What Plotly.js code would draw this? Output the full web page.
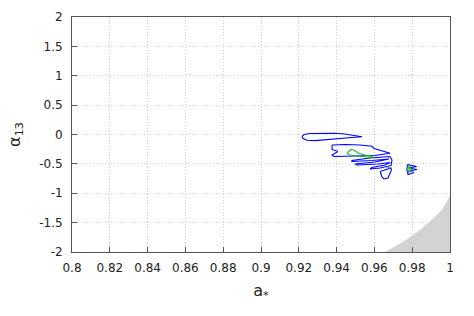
<!DOCTYPE html>
<html>
<head>
<meta charset="utf-8">
<script src="https://cdn.plot.ly/plotly-3.0.1.min.js"></script>
<style>html,body{margin:0;padding:0;background:#fff;}#chart{width:474px;height:316px;}</style>
</head>
<body>
<div id="chart"></div>
<script>
// Tick labels
var xTickVals = [0.8, 0.82, 0.84, 0.86, 0.88, 0.9, 0.92, 0.94, 0.96, 0.98, 1];
var xTickText = ["0.8", "0.82", "0.84", "0.86", "0.88", "0.9", "0.92", "0.94", "0.96", "0.98", "1"];
var yTickVals = [-2, -1.5, -1, -0.5, 0, 0.5, 1, 1.5, 2];
var yTickText = ["-2", "-1.5", "-1", "-0.5", "0", "0.5", "1", "1.5", "2"];

// Excluded (shaded) region boundary
var shadeX = [0.9656, 0.9753, 0.9841, 0.9912, 0.9956, 0.9983, 1.0, 1.0, 0.9656];
var shadeY = [-2.0, -1.825, -1.626, -1.426, -1.285, -1.144, -1.03, -2.0, -2.0];

// Blue contours
var blueAX = [0.9217, 0.9228, 0.9259, 0.9312, 0.9392, 0.9444, 0.9497, 0.9534, 0.9497, 0.9444, 0.9392, 0.9339, 0.9286, 0.9243, 0.9222, 0.9217];
var blueAY = [-0.037, 0.000, 0.017, 0.022, 0.022, 0.009, -0.017, -0.037, -0.048, -0.060, -0.073, -0.090, -0.104, -0.099, -0.068, -0.037];

var blueBX = [0.9376, 0.9444, 0.9524, 0.9587, 0.9598, 0.9683, 0.9603, 0.9497, 0.9386, 0.9376, 0.9407, 0.9376, 0.9376];
var blueBY = [-0.179, -0.170, -0.179, -0.201, -0.238, -0.320, -0.357, -0.366, -0.374, -0.349, -0.289, -0.255, -0.179];

var blueSX = [0.9683, 0.9577, 0.9481, 0.9481, 0.9587, 0.9677, 0.9603, 0.9497, 0.9508, 0.9619, 0.9683, 0.9656, 0.9587, 0.9577, 0.9630, 0.9688, 0.9693, 0.9683];
var blueSY = [-0.374, -0.400, -0.443, -0.460, -0.443, -0.417, -0.468, -0.502, -0.519, -0.502, -0.477, -0.519, -0.562, -0.587, -0.570, -0.528, -0.434, -0.374];

var blueLX = [0.9630, 0.9651, 0.9688, 0.9690, 0.9683, 0.9672, 0.9651, 0.9640, 0.9635, 0.9630];
var blueLY = [-0.630, -0.613, -0.570, -0.604, -0.672, -0.740, -0.757, -0.723, -0.672, -0.630];

var blueEX = [0.9775, 0.9799, 0.9823, 0.9783, 0.9825, 0.9783, 0.9810, 0.9778, 0.9772, 0.9775];
var blueEY = [-0.511, -0.528, -0.545, -0.570, -0.596, -0.621, -0.647, -0.681, -0.604, -0.511];

// Green contours
var greenAX = [0.9462, 0.9479, 0.9497, 0.9516, 0.9550, 0.9587, 0.9595, 0.9550, 0.9503, 0.9471, 0.9457, 0.9462];
var greenAY = [-0.293, -0.252, -0.272, -0.320, -0.349, -0.371, -0.391, -0.383, -0.366, -0.349, -0.323, -0.293];

var greenBX = [0.9665, 0.9683];
var greenBY = [-0.548, -0.575];

var greenCX = [0.9780, 0.9794, 0.9783, 0.9804, 0.9783, 0.9780, 0.9778, 0.9780];
var greenCY = [-0.528, -0.545, -0.570, -0.596, -0.613, -0.655, -0.587, -0.528];

var BLUE = '#0000ff', GREEN = '#22bb22';
function line(x, y, c) {
  return {x: x, y: y, type: 'scatter', mode: 'lines', line: {color: c, width: 1.1}, hoverinfo: 'skip', showlegend: false};
}

var data = [
  {x: shadeX, y: shadeY, type: 'scatter', mode: 'lines', fill: 'toself', fillcolor: '#d3d3d3', line: {width: 0, color: '#d3d3d3'}, hoverinfo: 'skip', showlegend: false},
  line(blueAX, blueAY, BLUE),
  line(blueBX, blueBY, BLUE),
  line(blueSX, blueSY, BLUE),
  line(blueLX, blueLY, BLUE),
  line(blueEX, blueEY, BLUE),
  line(greenAX, greenAY, GREEN),
  line(greenBX, greenBY, GREEN),
  line(greenCX, greenCY, GREEN)
];

var axisCommon = {
  showline: true, linecolor: '#555', linewidth: 1, mirror: true,
  ticks: 'inside', ticklen: 5, tickcolor: '#555',
  showgrid: true, gridcolor: '#d4d4d4', griddash: '1px,2px', gridwidth: 1,
  zeroline: false,
  tickfont: {family: 'DejaVu Sans', size: 12, color: '#222'},
  tickmode: 'array',
  ticklabelstandoff: 5
};

var layout = {
  width: 474, height: 316,
  margin: {l: 72, r: 24, t: 17, b: 64},
  paper_bgcolor: '#fff', plot_bgcolor: '#fff',
  font: {family: 'DejaVu Sans', color: '#222'},
  xaxis: Object.assign({}, axisCommon, {
    range: [0.8, 1], tickvals: xTickVals, ticktext: xTickText,
    title: {text: 'a<sub>*</sub>', font: {size: 16, family: 'DejaVu Sans'}, standoff: 10}
  }),
  yaxis: Object.assign({}, axisCommon, {
    range: [-2, 2], tickvals: yTickVals, ticktext: yTickText, ticklabelstandoff: 6,
    title: {text: 'α<sub>13</sub>', font: {size: 16, family: 'DejaVu Sans'}, standoff: 14}
  })
};

Plotly.newPlot('chart', data, layout, {displayModeBar: false, staticPlot: true});
</script>
</body>
</html>
